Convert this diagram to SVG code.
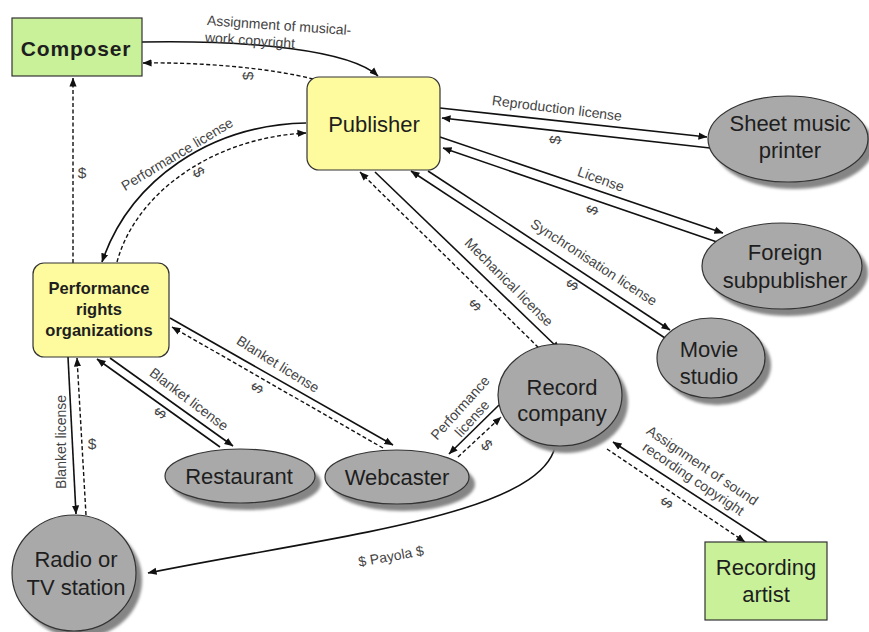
<svg xmlns="http://www.w3.org/2000/svg" width="869" height="632" viewBox="0 0 869 632">
  <defs>
    <marker id="arrow" viewBox="0 0 10 10" markerWidth="9" markerHeight="9" markerUnits="userSpaceOnUse" refX="9.5" refY="5" orient="auto">
      <path d="M0,1 L10,5 L0,9 z" fill="#111"/>
    </marker>
    <filter id="soft" x="-20%" y="-20%" width="140%" height="140%">
      <feGaussianBlur stdDeviation="1.6"/>
    </filter>
  </defs>
  <style>
    .green { fill: #c8f19a; stroke: #333; stroke-width: 1.2; }
    .yellow { fill: #fdfb9e; stroke: #333; stroke-width: 1.2; }
    .oval { fill: #a9a9a9; stroke: #333; stroke-width: 1.2; }
    .shadow { fill: #858585; filter: url(#soft); }
    .name { font-family: "Liberation Sans", Arial, sans-serif; font-size: 22px; fill: #1e1e1e; text-anchor: middle; }
    .bold { font-weight: bold; }
    .lbl { font-family: "Liberation Sans", Arial, sans-serif; font-size: 14px; fill: #444; text-anchor: middle; dominant-baseline: central; }
    .usd { font-size: 15.5px; }
    .solid { fill: none; stroke: #111; stroke-width: 1.6; marker-end: url(#arrow); }
    .dash { fill: none; stroke: #111; stroke-width: 1.4; stroke-dasharray: 4 2.5; marker-end: url(#arrow); }
  </style>
  <rect width="869" height="632" fill="#ffffff"/>

  <!-- connectors -->
  <g id="connectors">
    <!-- composer / publisher -->
    <path class="solid" d="M142,42 C250,40 350,50 378,76"/>
    <path class="dash" d="M313,79 C270,68 200,62 143,63"/>
    <!-- PRO to composer -->
    <path class="dash" d="M73,263 L73,78"/>
    <!-- publisher / PRO -->
    <path class="solid" d="M306,123 C210,125 130,180 102,262"/>
    <path class="dash" d="M117,262 C135,195 210,138 306,133"/>
    <!-- publisher / sheet music printer -->
    <path class="solid" d="M440,108 L707,137"/>
    <path class="solid" d="M710,148 L442,118"/>
    <!-- publisher / foreign subpublisher -->
    <path class="solid" d="M440,137 L723,233"/>
    <path class="solid" d="M717,242 L443,148"/>
    <!-- publisher / movie studio -->
    <path class="solid" d="M428,171 L670,330"/>
    <path class="solid" d="M665,338 L411,171"/>
    <!-- publisher / record company -->
    <path class="solid" d="M375,172 L560,350"/>
    <path class="dash" d="M543,352 L360,172"/>
    <!-- PRO / webcaster -->
    <path class="solid" d="M170,318 L393,445"/>
    <path class="dash" d="M383,448 L172,327"/>
    <!-- PRO / restaurant -->
    <path class="solid" d="M110,358 L233,446"/>
    <path class="solid" d="M220,447 L97,359"/>
    <!-- PRO / radio -->
    <path class="solid" d="M68,357 L76,514"/>
    <path class="dash" d="M86,515 L77,358"/>
    <!-- record company / webcaster -->
    <path class="solid" d="M499,405 L449,454"/>
    <path class="dash" d="M458,457 L501,417"/>
    <!-- payola -->
    <path class="solid" d="M556,441 C550,515 330,536 148,573"/>
    <!-- recording artist / record company -->
    <path class="solid" d="M767,542 L613,442"/>
    <path class="dash" d="M607,449 L745,542"/>

    <!-- connector labels -->
    <text class="lbl" transform="translate(207,20) rotate(4)" x="0" y="0" style="text-anchor:start">Assignment of musical-</text>
    <text class="lbl" transform="translate(205,37) rotate(4)" x="0" y="0" style="text-anchor:start">work copyright</text>
    <text class="lbl usd" transform="translate(247,76) rotate(-90)">$</text>
    <text class="lbl usd" transform="translate(82,172)">$</text>
    <text class="lbl" transform="translate(177,154) rotate(-31)">Performance license</text>
    <text class="lbl usd" transform="translate(199,172) rotate(60)">$</text>
    <text class="lbl" transform="translate(557,108) rotate(7)">Reproduction license</text>
    <text class="lbl usd" transform="translate(555,140) rotate(-84)">$</text>
    <text class="lbl" transform="translate(601,179) rotate(20)">License</text>
    <text class="lbl usd" transform="translate(592,210) rotate(-71)">$</text>
    <text class="lbl" transform="translate(594,262) rotate(33)">Synchronisation license</text>
    <text class="lbl usd" transform="translate(572,285) rotate(-57)">$</text>
    <text class="lbl" transform="translate(509,282) rotate(45)">Mechanical license</text>
    <text class="lbl usd" transform="translate(475,305) rotate(-45)">$</text>
    <text class="lbl" transform="translate(278,364) rotate(32)">Blanket license</text>
    <text class="lbl usd" transform="translate(257,388) rotate(-60)">$</text>
    <text class="lbl" transform="translate(189,399) rotate(37)">Blanket license</text>
    <text class="lbl usd" transform="translate(160,413) rotate(-55)">$</text>
    <text class="lbl" transform="translate(61,442) rotate(-90)">Blanket license</text>
    <text class="lbl usd" transform="translate(92,443)">$</text>
    <g transform="translate(466,413) rotate(-48)">
      <text class="lbl" x="0" y="-8">Performance</text>
      <text class="lbl" x="0" y="8">license</text>
    </g>
    <text class="lbl usd" transform="translate(487,445) rotate(47)">$</text>
    <g transform="translate(698,472) rotate(34)">
      <text class="lbl" x="0" y="-8">Assignment of sound</text>
      <text class="lbl" x="0" y="8">recording copyright</text>
    </g>
    <text class="lbl usd" transform="translate(667,503) rotate(124)">$</text>
    <text class="lbl" transform="translate(391,556) rotate(-10)">$ Payola $</text>
  </g>

  <!-- nodes -->
  <g id="composer">
    <rect class="green" x="12" y="18" width="130" height="58"/>
    <text class="name bold" x="76" y="56" style="font-size:21px;letter-spacing:0.8px">Composer</text>
  </g>
  <g id="publisher">
    <rect class="yellow" x="307" y="77" width="133" height="93" rx="12"/>
    <text class="name" x="374" y="132">Publisher</text>
  </g>
  <g id="pro">
    <rect class="yellow" x="33" y="263" width="136" height="94" rx="11"/>
    <text class="name bold" x="99" y="294" style="font-size:16.5px">Performance</text>
    <text class="name bold" x="99" y="315" style="font-size:16.5px">rights</text>
    <text class="name bold" x="99" y="336" style="font-size:16.5px">organizations</text>
  </g>
  <g id="sheet-music-printer">
    <ellipse class="shadow" cx="794" cy="146" rx="80" ry="43"/>
    <ellipse class="oval" cx="788" cy="139" rx="80" ry="43"/>
    <text class="name" x="790" y="131">Sheet music</text>
    <text class="name" x="790" y="158">printer</text>
  </g>
  <g id="foreign-subpublisher">
    <ellipse class="shadow" cx="788" cy="273" rx="80" ry="43"/>
    <ellipse class="oval" cx="782" cy="266" rx="80" ry="43"/>
    <text class="name" x="785" y="260">Foreign</text>
    <text class="name" x="785" y="288">subpublisher</text>
  </g>
  <g id="movie-studio">
    <ellipse class="shadow" cx="717" cy="365" rx="54" ry="40"/>
    <ellipse class="oval" cx="711" cy="358" rx="54" ry="40"/>
    <text class="name" x="709" y="357">Movie</text>
    <text class="name" x="709" y="384">studio</text>
  </g>
  <g id="record-company">
    <ellipse class="shadow" cx="566" cy="402" rx="62" ry="51"/>
    <ellipse class="oval" cx="560" cy="395" rx="62" ry="51"/>
    <text class="name" x="562" y="395">Record</text>
    <text class="name" x="562" y="421">company</text>
  </g>
  <g id="restaurant">
    <ellipse class="shadow" cx="246" cy="483" rx="75" ry="27"/>
    <ellipse class="oval" cx="240" cy="476" rx="75" ry="27"/>
    <text class="name" x="239" y="484">Restaurant</text>
  </g>
  <g id="webcaster">
    <ellipse class="shadow" cx="403" cy="484" rx="72" ry="27"/>
    <ellipse class="oval" cx="397" cy="477" rx="72" ry="27"/>
    <text class="name" x="397" y="485">Webcaster</text>
  </g>
  <g id="radio-tv-station">
    <ellipse class="shadow" cx="80" cy="580" rx="62" ry="58"/>
    <ellipse class="oval" cx="74" cy="573" rx="62" ry="58"/>
    <text class="name" x="76" y="567">Radio or</text>
    <text class="name" x="76" y="595">TV station</text>
  </g>
  <g id="recording-artist">
    <rect class="green" x="705" y="542" width="122" height="78"/>
    <text class="name" x="766" y="575">Recording</text>
    <text class="name" x="766" y="602">artist</text>
  </g>
</svg>
